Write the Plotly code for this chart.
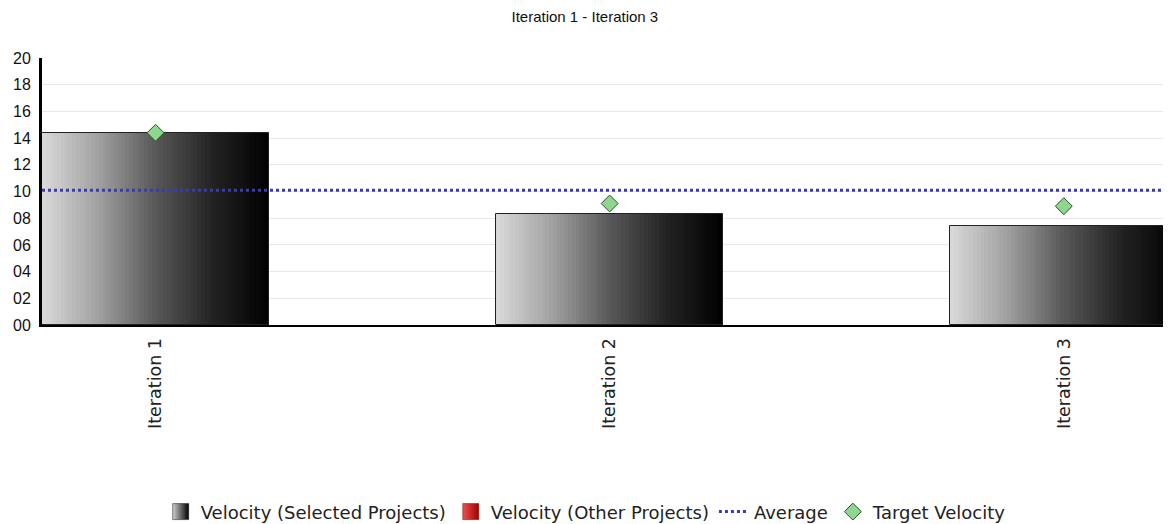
import plotly.graph_objects as go
import numpy as np

# ---- data ----
categories = ["Iteration 1", "Iteration 2", "Iteration 3"]
velocity_selected = [14.4, 8.3, 7.4]
velocity_other = [0, 0, 0]
target_velocity = [14.4, 9.1, 8.9]
average_velocity = 10.1
y_ticks = list(range(0, 21, 2))
title_text = "Iteration 1 - Iteration 3"

# ---- style ----
BAR_W = 0.5
N_SLICES = 60
grad_pos = [0.0, 0.25, 0.5, 0.75, 1.0]
grad_val = [218, 160, 88, 35, 0]

fig = go.Figure()

for i in range(N_SLICES):
    t = (i + 0.5) / N_SLICES
    g = int(round(np.interp(t, grad_pos, grad_val)))
    fig.add_trace(go.Bar(
        x=categories, y=velocity_selected,
        width=BAR_W / N_SLICES * 1.02,
        offset=-BAR_W / 2 + i * BAR_W / N_SLICES,
        marker=dict(color=f"rgb({g},{g},{g})", line=dict(width=0)),
        showlegend=False, hoverinfo="skip",
    ))

# outline of the selected-projects bars
fig.add_trace(go.Bar(
    x=categories, y=velocity_selected, width=BAR_W, offset=-BAR_W / 2,
    marker=dict(color="rgba(0,0,0,0)", line=dict(color="#222", width=1)),
    showlegend=False, hoverinfo="skip",
))
# legend entry (gradient square)
fig.add_trace(go.Scatter(
    x=[None], y=[None], mode="markers", name="Velocity (Selected Projects)",
    legendrank=1,
    marker=dict(symbol="square", size=22, color="#d0d0d0",
                gradient=dict(type="horizontal", color="#000000"),
                line=dict(color="#111", width=0.5)),
))
fig.add_trace(go.Bar(
    x=categories, y=velocity_other, width=BAR_W, offset=-BAR_W / 2,
    showlegend=False, hoverinfo="skip",
    marker=dict(color="#d42020", line=dict(width=0)),
))
fig.add_trace(go.Scatter(
    x=[None], y=[None], mode="markers", name="Velocity (Other Projects)",
    legendrank=2,
    marker=dict(symbol="square", size=22, color="#f05050",
                gradient=dict(type="horizontal", color="#a00000"),
                line=dict(color="#800000", width=0.5)),
))

fig.add_shape(
    type="line", xref="paper", x0=0, x1=1, yref="y",
    y0=average_velocity, y1=average_velocity,
    line=dict(color="#3b3bb0", width=3, dash="dot"),
    showlegend=True, name="Average", layer="above", legendrank=3,
)

fig.add_trace(go.Scatter(
    x=categories, y=target_velocity, mode="markers", name="Target Velocity",
    legendrank=4,
    marker=dict(symbol="diamond", size=13, color="#8fd68f",
                line=dict(color="#2d4d2d", width=1)),
))

fig.update_layout(
    width=1163, height=516,
    barmode="overlay", bargap=0,
    plot_bgcolor="white", paper_bgcolor="white",
    margin=dict(l=34, r=0, t=50, b=199, autoexpand=False),
    title=dict(text=title_text, x=0.496, xanchor="center", y=0.994, yanchor="top",
               font=dict(family="Liberation Sans, Arial", size=15, color="#111")),
    legend=dict(orientation="h", x=0.482, xanchor="center", y=-0.70, yanchor="middle",
                font=dict(family="DejaVu Sans, Verdana", size=18, color="#222"),
                itemwidth=30),
    showlegend=True,
)
fig.update_xaxes(
    type="category", range=[-0.25, 2.236], automargin=False,
    showline=True, linecolor="black", linewidth=2,
    showgrid=False, tickangle=-90, ticks="",
    ticklabelstandoff=4,
    tickfont=dict(family="DejaVu Sans, Verdana", size=17.5, color="#222"),
)
fig.update_yaxes(
    range=[0, 20], tickvals=y_ticks, ticktext=[f"{v:02d}" for v in y_ticks],
    automargin=False,
    showline=True, linecolor="black", linewidth=3,
    showgrid=True, gridcolor="#e9e9e9", gridwidth=1,
    zeroline=False, ticks="", ticklabelstandoff=5,
    tickfont=dict(family="Liberation Sans, Arial", size=16, color="#111"),
)

fig.write_html("out.html")
